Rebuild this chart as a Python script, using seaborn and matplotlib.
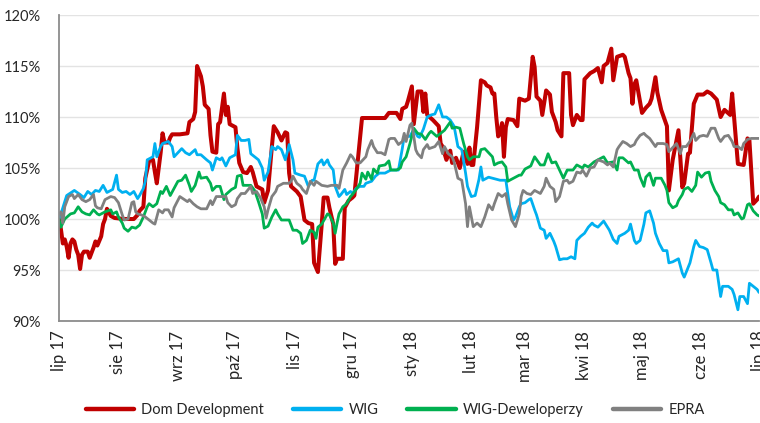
import pandas as pd
import matplotlib
matplotlib.use("Agg")
import matplotlib.pyplot as plt
import seaborn as sns

# ---------------- data (day offsets from 2017-07-01, values in %) ----------------
dom_days = [0, 1, 2, 3, 4, 5, 6, 7, 8, 9, 10, 11, 12, 13, 15, 16, 18, 19, 20, 22, 23, 24, 25, 27, 29, 34, 39,
            41, 42, 44, 45, 47, 49, 50, 51, 53, 54, 55, 57, 58, 59, 63, 67, 68, 70, 71, 72, 74, 75, 76, 78, 79,
            80, 82, 83, 84, 86, 87, 88, 89, 92, 93, 94, 96, 98, 100, 101, 103, 106, 107, 109, 111, 112, 114,
            116, 118, 119, 120, 121, 124, 126, 128, 130, 132, 133, 135, 137, 138, 140, 141, 143, 144, 145,
            148, 149, 151, 153, 154, 156, 158, 170, 172, 176, 178, 179, 181, 182, 184, 185, 187, 189, 190,
            191, 192, 195, 198, 199, 200, 202, 204, 205, 207, 209, 211, 213, 214, 215, 216, 218, 220, 222,
            223, 225, 226, 227, 228, 229, 230, 231, 232, 233, 234, 237, 239, 240, 243, 245, 247, 248, 249,
            251, 252, 254, 256, 257, 259, 260, 262, 263, 266, 267, 268, 270, 272, 273, 274, 277, 279, 281,
            283, 284, 286, 288, 289, 291, 294, 295, 297, 298, 299, 300, 301, 303, 304, 306, 308, 309, 311,
            312, 314, 317, 318, 320, 323, 325, 326, 328, 329, 331, 333, 336, 338, 340, 343, 345, 347, 350,
            351, 352, 354, 357, 359, 360, 362, 364, 365]
dom_vals = [100, 99, 97.6, 98, 97.3, 96.2, 97.6, 98, 97.8, 97, 96.5, 95.1, 96.5, 96.8, 96.8, 96.2, 97.2, 97.8,
            97.4, 98.3, 99.5, 100, 101, 100.3, 100.1, 100, 100, 100.4, 100.8, 101.2, 104, 105.7, 105.8, 104.6,
            103.5, 106.5, 108.4, 107.5, 107.5, 108, 108.3, 108.3, 108.4, 109.5, 109.8, 110.5, 115, 114, 113,
            111.2, 110.8, 108.2, 106.6, 106.5, 109.3, 109.5, 112.3, 110.2, 111, 109.3, 109, 107, 105.5, 104.6,
            104.5, 105.1, 104.6, 103.2, 102.9, 101.6, 102.8, 107.1, 109.1, 108.5, 107.7, 108.5, 108.4, 104.5,
            103.2, 102.7, 102.2, 99.9, 99.6, 99.5, 95.7, 94.8, 99.5, 102.1, 102.1, 101.1, 99.5, 95.6, 96.1,
            96.1, 101.1, 101.8, 102.1, 102.3, 106.1, 109.9, 109.9, 110.4, 110.4, 109.8, 110.8, 111, 111.6, 113,
            109.3, 112.5, 112.5, 110.5, 112.3, 110.2, 109.7, 109.1, 107.4, 107.1, 105.8, 106.7, 105.5, 106,
            105, 106.6, 105.4, 107, 105.3, 105.3, 109, 113.6, 113.4, 113.1, 112.9, 112.3, 112.3, 110, 108.1,
            108.4, 109.4, 106.1, 109, 109.8, 109.7, 109.1, 111.8, 111.6, 111.8, 115.9, 114.9, 112, 111.6,
            110.2, 112.6, 112.2, 110.5, 109.5, 108.7, 108.1, 114.3, 114.3, 110.2, 109.2, 110.2, 109.7, 109.7,
            113.7, 114.3, 114.5, 114.8, 113.4, 115, 115.3, 116.7, 113.6, 115.9, 116.1, 115.9, 114.3, 113.8,
            111.3, 113.2, 113.6, 111.5, 110.4, 110.9, 111.3, 111.8, 113.9, 112.4, 110.7, 109.1, 102.8, 105.8,
            108.7, 103.1, 103.5, 106.4, 106.5, 111.3, 112.2, 112.2, 112.5, 112.3, 111.7, 110, 110.7, 110.2,
            112.3, 110, 105.4, 105.3, 107.9, 107.7, 101.5, 101.9, 102.2]

wig_days = [0, 1, 4, 8, 11, 13, 15, 17, 19, 21, 23, 25, 28, 30, 31, 33, 35, 37, 39, 41, 42, 44, 45, 46, 49, 50,
            51, 53, 54, 57, 59, 60, 64, 66, 68, 71, 72, 74, 77, 79, 80, 82, 84, 85, 87, 89, 92, 93, 95, 97, 99,
            100, 102, 104, 106, 107, 109, 111, 113, 114, 116, 118, 120, 122, 123, 126, 128, 130, 132, 133, 135,
            137, 138, 140, 141, 143, 144, 146, 147, 149, 150, 152, 153, 155, 157, 159, 160, 163, 165, 167, 170,
            173, 177, 179, 180, 183, 185, 187, 188, 190, 192, 194, 196, 198, 200, 202, 204, 206, 208, 210, 212,
            213, 215, 217, 219, 220, 221, 224, 226, 230, 233, 235, 237, 238, 240, 241, 243, 245, 246, 248, 249,
            251, 253, 254, 256, 258, 259, 261, 263, 265, 267, 269, 270, 272, 274, 276, 278, 279, 281, 284, 286,
            287, 289, 291, 292, 295, 297, 298, 300, 301, 303, 305, 306, 308, 310, 311, 313, 315, 317, 318, 320,
            323, 325, 326, 329, 331, 332, 334, 336, 338, 340, 341, 343, 345, 346, 349, 351, 352, 354, 355, 357,
            359, 360, 362, 364, 365]
wig_vals = [100, 100.5, 102.3, 102.8, 102.4, 102.1, 102.7, 102.4, 102.8, 102.7, 103.3, 102.6, 102.9, 104.3,
            102.9, 102.6, 102.7, 102.4, 102.7, 102, 102.3, 103, 103.7, 105.8, 106.1, 107.4, 106.1, 107.1, 107.4,
            107.6, 107.1, 106.1, 106.9, 106.5, 106.3, 106.8, 106.3, 106.3, 105.8, 105.5, 104.8, 106, 105.8, 106,
            105.2, 106, 106.3, 108.2, 107.7, 107.7, 107.8, 106.4, 106.1, 105.8, 105, 103.8, 104.6, 107.1, 106.8,
            107.1, 106.8, 105.8, 107.3, 105.8, 104.5, 104.3, 104.2, 103.2, 103.8, 103.8, 105.4, 105.8, 105.3,
            105.8, 105.3, 104.8, 103.2, 102.2, 102.4, 102.9, 102.4, 102.7, 102.5, 103, 103.2, 103.2, 103.5,
            103.7, 104.2, 104.5, 104.5, 104.8, 104.8, 106.9, 108.1, 108.1, 108.8, 108.1, 108, 108.8, 110, 110.2,
            110.3, 111.2, 110, 110, 109.7, 109.1, 107.1, 106.8, 104.5, 103.2, 102.2, 102.3, 103.9, 105.1, 103.8,
            104.1, 104, 103.8, 103.8, 101.2, 99.9, 100.2, 101.2, 101.5, 101.6, 101.9, 102, 100.9, 100.4, 99.1,
            98.9, 98.1, 98.6, 97.8, 97.3, 96, 96.1, 96.1, 96.3, 96.1, 97.9, 98.3, 98.6, 99.2, 99.6, 99.4, 99.2,
            99.8, 99.2, 98.9, 98, 97.6, 98.3, 98.6, 98.9, 99.5, 97.9, 97.6, 97.9, 99.5, 100.6, 100.8, 99.6,
            98.6, 97.6, 96.9, 96.9, 95.7, 95.8, 96.1, 94.7, 94.3, 95.7, 97.3, 97.9, 97.3, 97.2, 97, 95.7, 95,
            95, 92.4, 93.4, 93.4, 93.1, 92.6, 91.1, 92.4, 92.4, 91.7, 93.7, 93.4, 93.1, 92.8]

dew_days = [0, 1, 3, 6, 8, 10, 12, 14, 16, 18, 20, 21, 24, 27, 28, 30, 31, 33, 34, 36, 38, 40, 42, 44, 46, 47,
            49, 51, 53, 54, 56, 58, 60, 62, 64, 66, 68, 69, 71, 73, 74, 77, 79, 80, 82, 84, 86, 87, 90, 92, 93,
            95, 96, 99, 100, 102, 104, 106, 107, 109, 111, 113, 114, 116, 119, 120, 122, 124, 126, 127, 129, 131,
            133, 134, 135, 137, 140, 141, 143, 144, 145, 146, 148, 150, 152, 153, 155, 157, 158, 160, 161, 163,
            164, 166, 167, 170, 172, 173, 176, 178, 179, 181, 183, 185, 187, 189, 191, 193, 194, 197, 199, 201,
            204, 205, 207, 209, 211, 213, 214, 216, 219, 220, 222, 224, 226, 227, 229, 231, 233, 234, 237, 240,
            241, 243, 246, 248, 251, 253, 255, 257, 259, 261, 263, 265, 268, 270, 273, 274, 276, 279, 281, 284,
            286, 289, 291, 292, 294, 297, 298, 300, 302, 303, 305, 306, 308, 310, 311, 314, 316, 317, 318, 320,
            322, 323, 325, 326, 328, 330, 332, 333, 335, 337, 339, 340, 342, 344, 345, 347, 349, 351, 352, 354,
            356, 357, 359, 360, 362, 364, 365]
dew_vals = [100, 99.2, 100, 100.5, 100.6, 101.2, 100.7, 100.5, 100.4, 100.9, 100.5, 100.4, 100.7, 100.9, 100.5,
            100.7, 100.2, 99.6, 99.1, 98.8, 99.2, 99.1, 99.4, 100.2, 101.2, 101.5, 101.2, 101.5, 102.7, 102.5,
            103.2, 102.3, 103, 103.7, 103.8, 104.3, 103.3, 102.7, 103.3, 104.6, 104, 104.1, 103.5, 102.8, 103.2,
            103.2, 101.9, 102.4, 102.9, 103.1, 104.2, 104.3, 103.3, 103.3, 103.3, 102.8, 101.7, 100.5, 99.1,
            99.3, 100.2, 100.9, 100.5, 99.9, 99.9, 99.9, 98.9, 98.9, 98.6, 97.6, 97.9, 98.9, 98.7, 98.1, 99.2,
            99.5, 100.5, 100.4, 99.6, 98.6, 99.6, 100.5, 101.2, 101.5, 102.2, 102.4, 102.9, 103.5, 104.5, 103.9,
            104.6, 103.9, 104.9, 104.5, 105.2, 105.3, 105.7, 104.8, 104.8, 105, 105.6, 106.1, 107.4, 108.9,
            108.4, 108.3, 107.8, 108.4, 108.6, 108.1, 108.4, 108.7, 109.5, 108.9, 109, 108.9, 107.4, 106.1,
            105.8, 106.1, 106.1, 106.8, 106.9, 106.5, 106.1, 105.3, 105.5, 105.6, 105.1, 103.7, 104, 104.3,
            104.3, 104.9, 105.2, 106.1, 105.3, 105.3, 106.4, 105.5, 105.6, 104.8, 104, 104.8, 104.8, 105.3, 105,
            105.3, 105.1, 105.6, 105.8, 106.1, 105.5, 105.6, 104.8, 106, 106, 105.5, 105.6, 104.8, 104.8, 104.1,
            103.2, 104.1, 104.5, 103.3, 104, 104, 103.3, 102.8, 101.6, 101.1, 101.3, 101.8, 102.4, 102.9, 103.1,
            102.7, 103.3, 104.6, 104.1, 104.5, 104.6, 103.7, 102.8, 102.2, 101.6, 101.4, 100.9, 100.9, 100.4,
            100.6, 100, 100.1, 101.4, 101.5, 100.8, 100.4, 100.3]

epra_days = [0, 1, 2, 3, 5, 7, 8, 10, 12, 14, 16, 18, 19, 20, 22, 24, 27, 29, 31, 33, 34, 36, 38, 39, 40, 41,
             43, 45, 47, 49, 50, 52, 54, 55, 57, 59, 60, 63, 67, 68, 70, 72, 74, 77, 79, 80, 82, 87, 88, 90, 92,
             93, 95, 97, 100, 101, 103, 105, 107, 108, 109, 111, 113, 114, 117, 120, 121, 122, 124, 126, 127, 129,
             131, 133, 134, 137, 140, 142, 145, 146, 148, 150, 152, 153, 155, 157, 160, 161, 163, 164, 166, 168,
             170, 172, 173, 175, 177, 179, 180, 181, 183, 184, 186, 187, 189, 190, 192, 193, 196, 198, 200, 201,
             203, 205, 206, 208, 210, 212, 213, 214, 216, 218, 220, 222, 224, 226, 227, 229, 231, 233, 234, 236,
             238, 240, 241, 242, 244, 246, 248, 249, 251, 253, 254, 256, 258, 259, 261, 263, 265, 266, 268, 270,
             272, 273, 275, 277, 279, 281, 284, 286, 287, 289, 291, 292, 294, 296, 298, 300, 301, 303, 305, 306,
             308, 311, 312, 315, 317, 318, 320, 322, 324, 325, 327, 329, 331, 332, 334, 336, 338, 340, 342, 344,
             345, 347, 349, 351, 352, 354, 356, 357, 359, 361, 363, 365]
epra_vals = [100.5, 100.7, 99.6, 101.2, 102.2, 102.4, 102, 102.4, 101.9, 101.7, 101.9, 102.4, 101.3, 101.1, 101,
             101.9, 102.2, 102.1, 101.6, 100.4, 99.9, 100, 101.6, 101.7, 100.7, 100.5, 100.4, 100.2, 99.9, 99.6,
             99.5, 100.9, 100.6, 100.9, 100.9, 100.2, 101.1, 102.2, 101.7, 101.9, 101.5, 101.2, 101, 101, 101.8,
             101.4, 102.2, 102.2, 101.6, 101.2, 101.4, 102, 102.5, 102.5, 103.2, 102.5, 102.7, 102.1, 101.2,
             100.1, 100.9, 102.2, 102.7, 103.2, 103.5, 103.5, 103.7, 104.2, 103.5, 103.2, 102.9, 102.5, 103.7,
             103.3, 103.7, 103.3, 103.2, 103.3, 103.3, 103, 104.8, 105.5, 106.3, 106.1, 105.5, 105.5, 106.1,
             106.8, 107.7, 107.1, 106.5, 106.5, 106.3, 107.8, 107.9, 107.9, 107.3, 107.6, 108.4, 107.6, 109.2,
             109.4, 106.8, 106.4, 106, 106.8, 107.3, 106.9, 107.1, 107.6, 106.4, 107.1, 106.4, 106.1, 105.6, 104,
             103.8, 101.5, 99.25, 101.2, 99.25, 99.6, 99.25, 100.2, 101.4, 100.9, 101.5, 102.5, 102.2, 102.5,
             101.5, 99.9, 99.25, 100.5, 102.2, 102.8, 102.5, 102.4, 102.8, 102.7, 102.5, 103.2, 104, 103.2, 102.9,
             101.7, 102.2, 103.7, 103.8, 103.5, 103.7, 104.6, 104.5, 104.8, 104.2, 105, 105.1, 105.8, 105.6, 105.3,
             105.5, 105.1, 106.8, 107.1, 107.6, 107.4, 107.1, 107.3, 107.7, 108.2, 108.4, 108.2, 107.9, 107.1,
             107.4, 107.4, 107.3, 106.6, 107, 107.4, 106.4, 107.1, 107.1, 107.6, 108.4, 107.7, 108.1, 108.2, 108.1,
             108.9, 108.9, 107.9, 107.6, 108.1, 108.2, 107.6, 107.1, 107.1, 106.8, 107.4, 107.8, 107.9, 107.9,
             107.9]

series_names = ["Dom Development", "WIG", "WIG-Deweloperzy", "EPRA"]
series_colors = ["#C00000", "#00B0F0", "#00B050", "#808080"]
month_ticks = ["2017-07-01", "2017-08-01", "2017-09-01", "2017-10-01", "2017-11-01", "2017-12-01",
               "2018-01-01", "2018-02-01", "2018-03-01", "2018-04-01", "2018-05-01", "2018-06-01", "2018-07-01"]
month_labels = ["lip 17", "sie 17", "wrz 17", "paź 17", "lis 17", "gru 17", "sty 18", "lut 18",
                "mar 18", "kwi 18", "maj 18", "cze 18", "lip 18"]
y_ticks = [90, 95, 100, 105, 110, 115, 120]
y_labels = ["90%", "95%", "100%", "105%", "110%", "115%", "120%"]

# ---------------- build long table ----------------
start = pd.Timestamp("2017-07-01")
frames = []
for name, days, vals in zip(series_names,
                            [dom_days, wig_days, dew_days, epra_days],
                            [dom_vals, wig_vals, dew_vals, epra_vals]):
    frames.append(pd.DataFrame({"date": start + pd.to_timedelta(days, unit="D"),
                                "value": vals, "series": name}))
df = pd.concat(frames, ignore_index=True)

sns.set_theme(style="white")
plt.rcParams["font.family"] = ["Lato", "DejaVu Sans"]

fig = plt.figure(figsize=(7.6, 4.23), dpi=100)
ax = fig.add_axes([59 / 760, 1 - 321 / 423, 700 / 760, (321 - 15) / 423])

widths = {"Dom Development": 2.9, "WIG": 2.0, "WIG-Deweloperzy": 2.0, "EPRA": 2.0}
for name, col in zip(series_names, series_colors):
    sub = df[df["series"] == name]
    sns.lineplot(data=sub, x="date", y="value", color=col, linewidth=widths[name],
                 label=name, ax=ax, estimator=None, sort=True, legend=False)

ax.set_xlim(pd.Timestamp(month_ticks[0]), pd.Timestamp(month_ticks[-1]))
ax.set_ylim(90, 120)
ax.set_xticks(pd.to_datetime(month_ticks))
ax.set_xticklabels(month_labels, rotation=90, fontsize=12, color="#262626")
ax.set_yticks(y_ticks)
ax.set_yticklabels(y_labels, fontsize=10.5, color="#262626")
ax.set_xlabel("")
ax.set_ylabel("")

ax.grid(axis="y", color="#E3E3E3", linewidth=1.0)
ax.grid(axis="x", visible=False)
ax.set_axisbelow(True)
for side in ["top", "right"]:
    ax.spines[side].set_visible(False)
for side in ["left", "bottom"]:
    ax.spines[side].set_color("#8C8C8C")
    ax.spines[side].set_linewidth(1.3)
ax.tick_params(axis="both", which="major", direction="out", length=4, width=1.1,
               color="#8C8C8C", pad=3)
ax.tick_params(axis="y", pad=9)

handles, labels = ax.get_legend_handles_labels()
leg = fig.legend(handles, labels, loc="center", bbox_to_anchor=(395 / 760, 1 - 410 / 423),
                 ncol=4, frameon=False, fontsize=10.5, handlelength=3.3, handletextpad=0.5,
                 columnspacing=2.0)
for h in leg.legend_handles:
    h.set_linewidth(3.2)

fig.savefig("out.png", dpi=100)
